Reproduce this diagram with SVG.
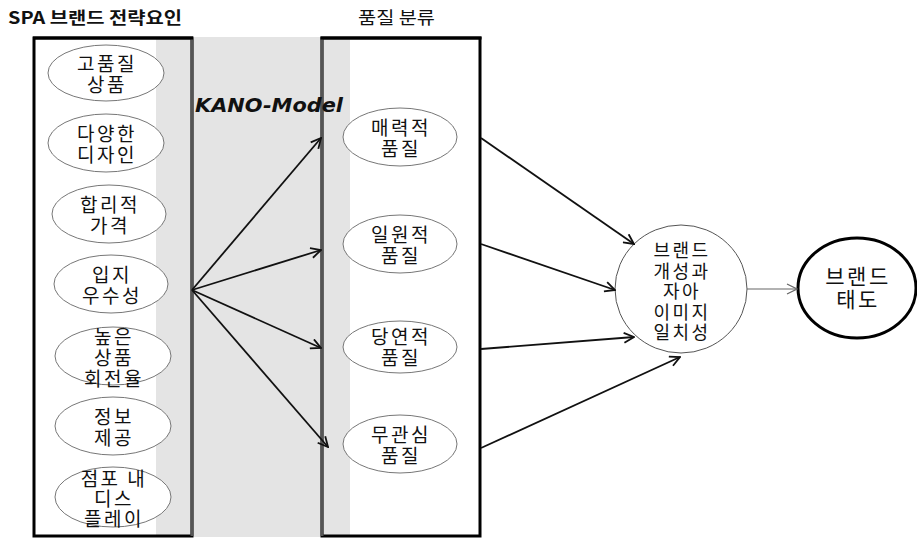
<svg xmlns="http://www.w3.org/2000/svg" width="917" height="539" viewBox="0 0 917 539">
<style>
text{font-family:"Noto Sans CJK KR","Noto Sans",sans-serif;fill:#111;}
.t{font-size:19px;text-anchor:middle;letter-spacing:2.5px;}
.e{fill:#fff;stroke:#777;stroke-width:1;}
.c{stroke:#111;stroke-width:1.8;fill:none;}
</style>
<defs>
<marker id="ah" markerUnits="userSpaceOnUse" viewBox="0 0 12 12" markerWidth="12" markerHeight="12" refX="11" refY="6" orient="auto">
<path d="M1,1 L11,6 L1,11" fill="none" stroke="#111" stroke-width="1.8"/>
</marker>
<marker id="ahg" markerUnits="userSpaceOnUse" viewBox="0 0 12 12" markerWidth="12" markerHeight="12" refX="11" refY="6" orient="auto">
<path d="M1,1 L11,6 L1,11" fill="none" stroke="#666" stroke-width="1.2"/>
</marker>
</defs>
<rect width="917" height="539" fill="#fff"/>
<text x="8" y="24" style="font-size:17px;font-weight:bold" textLength="174" lengthAdjust="spacingAndGlyphs">SPA 브랜드 전략요인</text>
<text x="358" y="24" style="font-size:17px" textLength="77" lengthAdjust="spacingAndGlyphs">품질 분류</text>
<g id="frame">
<rect x="156" y="37" width="194" height="500" fill="#e4e4e4"/>
<rect x="34" y="38" width="158" height="498" fill="none" stroke="#000" stroke-width="3"/>
<rect x="322" y="38" width="158" height="498" fill="none" stroke="#000" stroke-width="3"/>
<line x1="192" y1="38" x2="192" y2="536" stroke="#555" stroke-width="3"/>
<line x1="322" y1="38" x2="322" y2="536" stroke="#555" stroke-width="3"/>
<rect x="33" y="36.5" width="160" height="3" fill="#000"/>
<rect x="320.5" y="36.5" width="161" height="3" fill="#000"/>
</g>
<text x="195" y="112" style="font-family:'DejaVu Sans',sans-serif;font-size:19px;font-weight:bold;font-style:italic" textLength="148" lengthAdjust="spacingAndGlyphs">KANO-Model</text>
<g id="n1"><ellipse class="e" cx="106" cy="73" rx="58" ry="28"/><text class="t" x="107" y="71">고품질</text><text class="t" x="107" y="92">상품</text></g>
<g id="n2"><ellipse class="e" cx="106" cy="143" rx="58" ry="29"/><text class="t" x="107" y="141">다양한</text><text class="t" x="107" y="162">디자인</text></g>
<g id="n3"><ellipse class="e" cx="109" cy="214" rx="57" ry="29"/><text class="t" x="110" y="212">합리적</text><text class="t" x="110" y="233">가격</text></g>
<g id="n4"><ellipse class="e" cx="111" cy="284" rx="57" ry="29"/><text class="t" x="112" y="282">입지</text><text class="t" x="112" y="303">우수성</text></g>
<g id="n5"><ellipse class="e" cx="113" cy="356" rx="58" ry="29"/><text class="t" x="114" y="344">높은</text><text class="t" x="114" y="365">상품</text><text class="t" x="114" y="386">회전율</text></g>
<g id="n6"><ellipse class="e" cx="113" cy="426" rx="58" ry="29"/><text class="t" x="114" y="424">정보</text><text class="t" x="114" y="445">제공</text></g>
<g id="n7"><ellipse class="e" cx="113" cy="497" rx="58" ry="30"/><text class="t" x="114" y="486">점포 내</text><text class="t" x="114" y="506">디스</text><text class="t" x="114" y="526">플레이</text></g>
<g id="q1"><ellipse class="e" cx="400" cy="137" rx="57" ry="29"/><text class="t" x="401" y="135">매력적</text><text class="t" x="401" y="156">품질</text></g>
<g id="q2"><ellipse class="e" cx="400" cy="244" rx="57" ry="29"/><text class="t" x="401" y="242">일원적</text><text class="t" x="401" y="263">품질</text></g>
<g id="q3"><ellipse class="e" cx="400" cy="347" rx="57" ry="26"/><text class="t" x="401" y="344">당연적</text><text class="t" x="401" y="365">품질</text></g>
<g id="q4"><ellipse class="e" cx="400" cy="444" rx="57" ry="29"/><text class="t" x="401" y="442">무관심</text><text class="t" x="401" y="463">품질</text></g>
<g id="b1"><ellipse cx="681" cy="289" rx="66" ry="64" fill="#fff" stroke="#555" stroke-width="1"/>
<text class="t" x="682" y="257" style="font-size:18px">브랜드</text>
<text class="t" x="682" y="278" style="font-size:18px">개성과</text>
<text class="t" x="682" y="298" style="font-size:18px">자아</text>
<text class="t" x="682" y="319" style="font-size:18px">이미지</text>
<text class="t" x="682" y="339" style="font-size:18px">일치성</text></g>
<g id="b2"><ellipse cx="857" cy="288" rx="59" ry="50" fill="#fff" stroke="#000" stroke-width="3"/>
<text class="t" x="858" y="284" style="font-size:21px">브랜드</text>
<text class="t" x="858" y="307" style="font-size:21px">태도</text></g>
<g id="connectors">
<line class="c" x1="192" y1="290" x2="321" y2="138" marker-end="url(#ah)"/>
<line class="c" x1="192" y1="290" x2="321" y2="250" marker-end="url(#ah)"/>
<line class="c" x1="192" y1="290" x2="321" y2="348" marker-end="url(#ah)"/>
<line class="c" x1="192" y1="290" x2="328" y2="447" marker-end="url(#ah)"/>
<line class="c" x1="481" y1="138" x2="634" y2="244" marker-end="url(#ah)"/>
<line class="c" x1="481" y1="244" x2="615" y2="290" marker-end="url(#ah)"/>
<line class="c" x1="481" y1="349" x2="634" y2="337" marker-end="url(#ah)"/>
<line class="c" x1="481" y1="448" x2="680" y2="357" marker-end="url(#ah)"/>
<line x1="747" y1="289" x2="797" y2="289" stroke="#666" stroke-width="1.2" marker-end="url(#ahg)"/>
</g>
</svg>
